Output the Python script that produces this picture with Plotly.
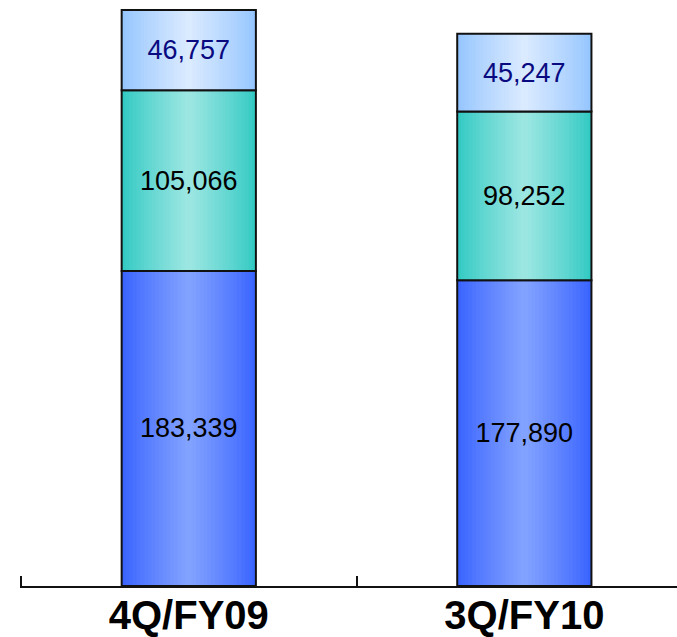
import plotly.graph_objects as go

categories = ["4Q/FY09", "3Q/FY10"]
bottom_values = [183339, 177890]
middle_values = [105066, 98252]
top_values = [46757, 45247]

segments = [
    dict(values=bottom_values, edge=(58, 100, 255), center=(130, 162, 255), text_color="#000000"),
    dict(values=middle_values, edge=(52, 202, 196), center=(156, 230, 226), text_color="#000000"),
    dict(values=top_values, edge=(150, 198, 255), center=(218, 234, 255), text_color="#0a0a80"),
]

BAR_W = 0.4
N_LAYERS = 18


def lerp(a, b, t):
    return "rgb(%d,%d,%d)" % tuple(round(a[i] + (b[i] - a[i]) * t) for i in range(3))


fig = go.Figure()
bases = [0] * len(categories)
for seg in segments:
    vals = seg["values"]
    # gradient layers (dark edges -> light center)
    for k in range(N_LAYERS):
        t = k / (N_LAYERS - 1)
        w = BAR_W * (1 - k / N_LAYERS)
        fig.add_trace(go.Bar(
            x=categories, y=vals, base=bases, width=w,
            marker=dict(color=lerp(seg["edge"], seg["center"], t ** 0.9), line=dict(width=0)),
            hoverinfo="skip", showlegend=False,
        ))
    # outline + labels
    fig.add_trace(go.Bar(
        x=categories, y=vals, base=bases, width=BAR_W,
        marker=dict(color="rgba(0,0,0,0)", line=dict(color="#111111", width=2)),
        text=[f"{v:,}" for v in vals], textposition="inside", insidetextanchor="middle",
        textangle=0, constraintext="none",
        textfont=dict(family="Liberation Sans, Arial, sans-serif", size=27, color=seg["text_color"]),
        hoverinfo="skip", showlegend=False,
    ))
    bases = [b + v for b, v in zip(bases, vals)]

fig.update_layout(
    width=677, height=637,
    barmode="overlay",
    paper_bgcolor="white", plot_bgcolor="white",
    margin=dict(l=20, r=0, t=0, b=51, pad=0),
    showlegend=False,
    uniformtext=dict(mode=False),
)
fig.update_xaxes(
    type="category", range=[-0.503, 1.455], tickson="boundaries",
    ticks="inside", ticklen=10, tickwidth=2, tickcolor="#111111",
    showline=True, linewidth=2, linecolor="#111111",
    showgrid=False, zeroline=False, automargin=False,
    ticklabelstandoff=-7,
    tickfont=dict(family="Liberation Sans, Arial, sans-serif", size=40, color="#000000", weight="bold"),
)
fig.update_yaxes(visible=False, range=[0, 340980], showgrid=False, zeroline=False)

fig.write_html(
    "out.html",
    config={"displayModeBar": False, "staticPlot": True},
    post_script="document.body.style.margin='0';document.body.style.overflow='hidden';",
)
